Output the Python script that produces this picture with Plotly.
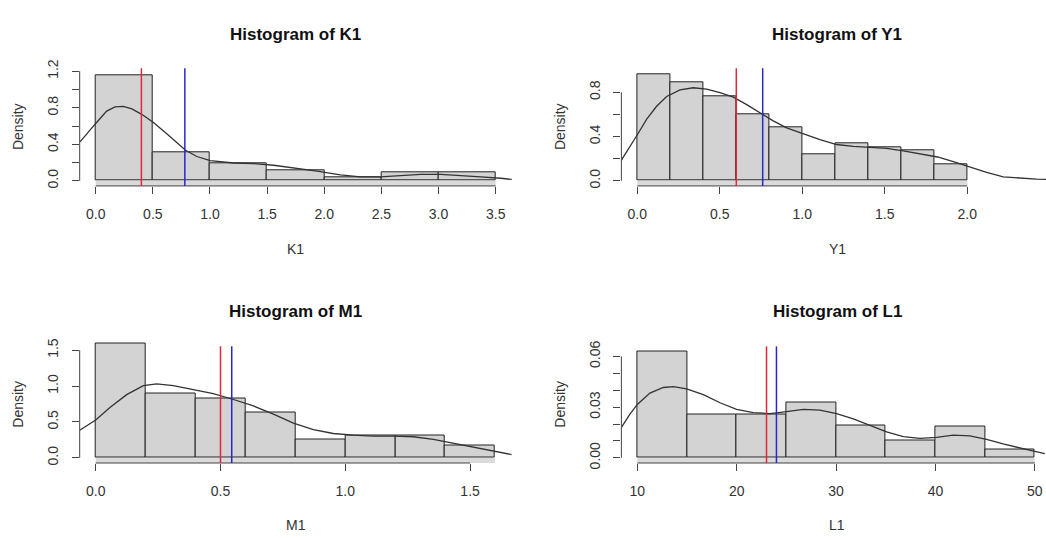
import plotly.graph_objects as go

# ---------------- data ----------------
K1_breaks = [0.0, 0.5, 1.0, 1.5, 2.0, 2.5, 3.0, 3.5]
K1_density = [1.16, 0.31, 0.196, 0.114, 0.036, 0.096, 0.088]
K1_kde_x = [-0.137, -0.073, 0.0, 0.096, 0.169, 0.242, 0.316, 0.403, 0.505, 0.622, 0.710, 0.786,
            0.885, 1.002, 1.207, 1.382, 1.557, 1.732, 1.937, 2.141, 2.317, 2.492, 2.667, 2.843,
            3.018, 3.193, 3.368, 3.544, 3.646]
K1_kde_y = [0.426, 0.525, 0.628, 0.763, 0.809, 0.816, 0.788, 0.728, 0.639, 0.515, 0.415, 0.334,
            0.266, 0.220, 0.195, 0.188, 0.170, 0.142, 0.106, 0.064, 0.043, 0.043, 0.057, 0.071,
            0.071, 0.060, 0.043, 0.028, 0.014]
K1_median = 0.40
K1_mean = 0.78

Y1_breaks = [0.0, 0.2, 0.4, 0.6, 0.8, 1.0, 1.2, 1.4, 1.6, 1.8, 2.0]
Y1_density = [0.96, 0.89, 0.76, 0.60, 0.48, 0.235, 0.34, 0.305, 0.28, 0.145]
Y1_kde_x = [-0.097, -0.044, 0.0, 0.057, 0.117, 0.178, 0.259, 0.339, 0.420, 0.501, 0.582, 0.663,
            0.743, 0.824, 0.905, 1.006, 1.107, 1.208, 1.309, 1.410, 1.511, 1.612, 1.713, 1.820,
            1.920, 2.016, 2.117, 2.218, 2.319, 2.420, 2.480]
Y1_kde_y = [0.185, 0.308, 0.416, 0.557, 0.674, 0.762, 0.821, 0.841, 0.829, 0.797, 0.756, 0.689,
            0.615, 0.542, 0.478, 0.425, 0.372, 0.328, 0.311, 0.302, 0.293, 0.270, 0.245, 0.215,
            0.170, 0.125, 0.075, 0.035, 0.022, 0.015, 0.012]
Y1_median = 0.60
Y1_mean = 0.76

M1_breaks = [0.0, 0.2, 0.4, 0.6, 0.8, 1.0, 1.2, 1.4, 1.6]
M1_density = [1.60, 0.90, 0.83, 0.635, 0.25, 0.31, 0.31, 0.17]
M1_kde_x = [-0.064, 0.0, 0.057, 0.124, 0.191, 0.244, 0.311, 0.391, 0.471, 0.552, 0.632, 0.712,
            0.792, 0.872, 0.952, 1.032, 1.113, 1.193, 1.273, 1.353, 1.433, 1.513, 1.593, 1.667]
M1_kde_y = [0.384, 0.528, 0.700, 0.881, 1.007, 1.030, 1.007, 0.949, 0.894, 0.813, 0.723, 0.610,
            0.483, 0.393, 0.339, 0.316, 0.303, 0.303, 0.294, 0.257, 0.203, 0.149, 0.104, 0.045]
M1_median = 0.50
M1_mean = 0.545

L1_breaks = [10, 15, 20, 25, 30, 35, 40, 45, 50]
L1_density = [0.063, 0.0256, 0.0256, 0.0328, 0.019, 0.0100, 0.0188, 0.0052]
L1_kde_x = [8.42, 9.26, 10.0, 11.27, 12.62, 13.62, 14.96, 16.64, 18.32, 19.99, 21.67, 23.35,
            25.02, 26.70, 28.37, 30.05, 31.73, 33.40, 35.08, 36.76, 38.43, 40.11, 41.79, 43.46,
            45.14, 46.81, 48.49, 50.0, 51.0]
L1_kde_y = [0.0182, 0.0259, 0.0316, 0.0383, 0.0416, 0.0421, 0.0408, 0.0374, 0.0326, 0.0287,
            0.0268, 0.0262, 0.0274, 0.0287, 0.0282, 0.0262, 0.0230, 0.0192, 0.0153, 0.0125,
            0.0115, 0.0121, 0.0134, 0.0130, 0.0109, 0.0082, 0.0057, 0.0038, 0.0025]
L1_median = 23.0
L1_mean = 24.0

K1_xticks = [0.0, 0.5, 1.0, 1.5, 2.0, 2.5, 3.0, 3.5]
K1_xlabels = ["0.0", "0.5", "1.0", "1.5", "2.0", "2.5", "3.0", "3.5"]
K1_yticks = [0.0, 0.2, 0.4, 0.6, 0.8, 1.0, 1.2]
K1_ylabels = ["0.0", "", "0.4", "", "0.8", "", "1.2"]

Y1_xticks = [0.0, 0.5, 1.0, 1.5, 2.0]
Y1_xlabels = ["0.0", "0.5", "1.0", "1.5", "2.0"]
Y1_yticks = [0.0, 0.2, 0.4, 0.6, 0.8]
Y1_ylabels = ["0.0", "", "0.4", "", "0.8"]

M1_xticks = [0.0, 0.5, 1.0, 1.5]
M1_xlabels = ["0.0", "0.5", "1.0", "1.5"]
M1_yticks = [0.0, 0.5, 1.0, 1.5]
M1_ylabels = ["0.0", "0.5", "1.0", "1.5"]

L1_xticks = [10, 20, 30, 40, 50]
L1_xlabels = ["10", "20", "30", "40", "50"]
L1_yticks = [0.00, 0.01, 0.02, 0.03, 0.04, 0.05, 0.06]
L1_ylabels = ["0.00", "", "", "0.03", "", "", "0.06"]

variables = ["K1", "Y1", "M1", "L1"]

# ---------------- layout geometry ----------------
W, H = 1046, 539
FONT = "Liberation Sans, Arial, Helvetica, sans-serif"
TXT = "#333333"
AX = "#444444"


def px_x(p):
    return p / W


def px_y(p):
    return 1 - p / H


col_px = [(79.7, 511.7), (621.4, 1046.0)]
row_px = [(61.0, 182.0), (341.0, 467.0)]
line_top_px = [61.0, 347.0]

panels = [
    dict(name="K1", breaks=K1_breaks, dens=K1_density, kx=K1_kde_x, ky=K1_kde_y,
         med=K1_median, mean=K1_mean, xt=K1_xticks, xtt=K1_xlabels, yt=K1_yticks, ytt=K1_ylabels,
         xr=[-0.14, 3.64], yr=[-0.0564, 1.232], col=0, row=0),
    dict(name="Y1", breaks=Y1_breaks, dens=Y1_density, kx=Y1_kde_x, ky=Y1_kde_y,
         med=Y1_median, mean=Y1_mean, xt=Y1_xticks, xtt=Y1_xlabels, yt=Y1_yticks, ytt=Y1_ylabels,
         xr=[-0.0964, 2.477], yr=[-0.0466, 1.017], col=1, row=0),
    dict(name="M1", breaks=M1_breaks, dens=M1_density, kx=M1_kde_x, ky=M1_kde_y,
         med=M1_median, mean=M1_mean, xt=M1_xticks, xtt=M1_xlabels, yt=M1_yticks, ytt=M1_ylabels,
         xr=[-0.0641, 1.6667], yr=[-0.072, 1.635], col=0, row=1),
    dict(name="L1", breaks=L1_breaks, dens=L1_density, kx=L1_kde_x, ky=L1_kde_y,
         med=L1_median, mean=L1_mean, xt=L1_xticks, xtt=L1_xlabels, yt=L1_yticks, ytt=L1_ylabels,
         xr=[8.40, 51.12], yr=[-0.00305, 0.0694], col=1, row=1),
]

fig = go.Figure()
shapes = []
annotations = []
layout_axes = {}

for i, p in enumerate(panels, start=1):
    sfx = "" if i == 1 else str(i)
    xa, ya = "x" + sfx, "y" + sfx
    b = p["breaks"]
    mids = [(b[k] + b[k + 1]) / 2 for k in range(len(p["dens"]))]
    widths = [b[k + 1] - b[k] for k in range(len(p["dens"]))]
    fig.add_trace(go.Bar(x=mids, y=p["dens"], width=widths, xaxis=xa, yaxis=ya,
                         marker=dict(color="#d3d3d3", line=dict(color="#222222", width=1)),
                         hoverinfo="skip", showlegend=False))
    fig.add_trace(go.Scatter(x=p["kx"], y=p["ky"], mode="lines", xaxis=xa, yaxis=ya,
                             line=dict(color="#333333", width=1.3), hoverinfo="skip",
                             showlegend=False))

    c0, c1 = col_px[p["col"]]
    r0, r1 = row_px[p["row"]]
    xdom = [px_x(c0), min(1.0, px_x(c1))]
    ydom = [px_y(r1), px_y(r0)]
    line_top = (r1 - line_top_px[p["row"]]) / (r1 - r0)

    layout_axes["xaxis" + sfx] = dict(
        domain=xdom, range=p["xr"], anchor=ya, showgrid=False, zeroline=False, showline=False,
        ticks="outside", ticklen=7, tickwidth=1, tickcolor=AX,
        tickmode="array", tickvals=p["xt"], ticktext=p["xtt"],
        tickfont=dict(family=FONT, size=14, color=TXT), ticklabelstandoff=8,
        fixedrange=True)
    layout_axes["yaxis" + sfx] = dict(
        domain=ydom, range=p["yr"], anchor=xa, showgrid=False, zeroline=False, showline=False,
        ticks="outside", ticklen=7, tickwidth=1, tickcolor=AX,
        tickmode="array", tickvals=p["yt"], ticktext=p["ytt"], tickangle=-90,
        tickfont=dict(family=FONT, size=14, color=TXT), ticklabelstandoff=8,
        fixedrange=True)

    # gray strip under the bars (between baseline and axis)
    shapes.append(dict(type="rect", xref=xa, yref=ya, x0=b[0], x1=b[-1], y0=p["yr"][0], y1=0,
                       fillcolor="#dadada", line=dict(width=0), layer="below"))
    # R-style axis lines spanning first..last tick
    shapes.append(dict(type="line", xref=xa, yref=ya + " domain", x0=p["xt"][0], x1=p["xt"][-1],
                       y0=0, y1=0, line=dict(color=AX, width=1)))
    shapes.append(dict(type="line", xref=xa + " domain", yref=ya, x0=0, x1=0,
                       y0=p["yt"][0], y1=p["yt"][-1], line=dict(color=AX, width=1)))
    # median (red) and mean (blue)
    shapes.append(dict(type="line", xref=xa, yref=ya + " domain", x0=p["med"], x1=p["med"],
                       y0=0, y1=line_top, line=dict(color="#e0283c", width=1.5)))
    shapes.append(dict(type="line", xref=xa, yref=ya + " domain", x0=p["mean"], x1=p["mean"],
                       y0=0, y1=line_top, line=dict(color="#2828c8", width=1.5)))

    # texts
    cx = (c0 + (col_px[p["col"]][0] + 432.0)) / 2.0
    title_y = [26.7, 311.0][p["row"]]
    xlab_y = [247.0, 531.0][p["row"]]
    ylab_x = [18.0, 560.0][p["col"]]
    annotations.append(dict(text="<b>Histogram of " + p["name"] + "</b>", xref="paper", yref="paper",
                            x=px_x(cx), y=px_y(title_y), xanchor="center", yanchor="middle",
                            showarrow=False, font=dict(family=FONT, size=17, color="#111111")))
    annotations.append(dict(text=p["name"], xref="paper", yref="paper",
                            x=px_x(cx), y=px_y(xlab_y), xanchor="center", yanchor="middle",
                            showarrow=False, font=dict(family=FONT, size=14, color=TXT)))
    annotations.append(dict(text="Density", xref="paper", yref="paper", textangle=-90,
                            x=px_x(ylab_x), y=px_y((row_px[p["row"]][1] + line_top_px[p["row"]]) / 2),
                            xanchor="center", yanchor="middle", showarrow=False,
                            font=dict(family=FONT, size=14, color=TXT)))

fig.update_layout(
    width=W, height=H, margin=dict(l=0, r=0, t=0, b=0, pad=0),
    paper_bgcolor="white", plot_bgcolor="white", showlegend=False,
    bargap=0, shapes=shapes, annotations=annotations, **layout_axes)

fig.write_html("out.html", config={"displayModeBar": False})
